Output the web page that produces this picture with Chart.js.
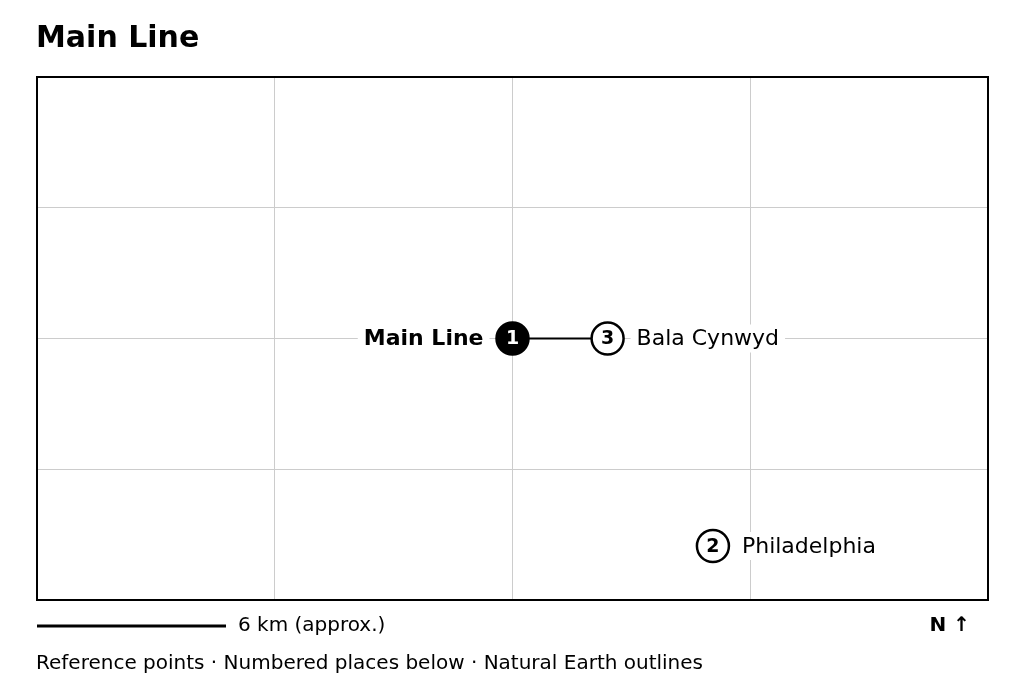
<!DOCTYPE html>
<html><head><meta charset="utf-8">
<script src="https://cdn.jsdelivr.net/npm/chart.js@4"></script>
<style>html,body{margin:0;padding:0;background:#fff}#w{width:1024px;height:692px}</style>
</head><body><div id="w"><canvas id="c"></canvas></div>
<script>
const places = ["Main Line", "Philadelphia", "Bala Cynwyd"];
const numbers = [1, 2, 3];
const xs = [2.0, 2.843, 2.40];
const ys = [2.0, 0.413, 2.0];
const F = "'DejaVu Sans', sans-serif";

const overlay = {
  id: 'overlay',
  afterDatasetsDraw(chart) {
    const {ctx, scales: {x, y}, chartArea: a} = chart;
    ctx.save();
    ctx.strokeStyle = '#000'; ctx.lineWidth = 2;
    ctx.beginPath();
    ctx.moveTo(x.getPixelForValue(xs[0]), y.getPixelForValue(ys[0]));
    ctx.lineTo(x.getPixelForValue(xs[2]), y.getPixelForValue(ys[2]));
    ctx.stroke();
    for (let i = 0; i < places.length; i++) {
      const px = x.getPixelForValue(xs[i]), py = y.getPixelForValue(ys[i]);
      const main = i === 0;
      ctx.font = (main ? 'bold ' : '') + '22px ' + F;
      const tw = ctx.measureText(places[i]).width;
      const lx = main ? px - 29 - tw : px + 29;
      ctx.fillStyle = '#fff';
      ctx.fillRect(lx - 6, py - 14, tw + 12, 28);
      ctx.fillStyle = '#000'; ctx.textBaseline = 'middle'; ctx.textAlign = 'left';
      ctx.fillText(places[i], lx, py + 1);
      ctx.beginPath(); ctx.arc(px, py, 16, 0, Math.PI * 2);
      ctx.fillStyle = main ? '#000' : '#fff'; ctx.fill();
      ctx.lineWidth = 2.5; ctx.strokeStyle = '#000'; ctx.stroke();
      ctx.font = 'bold 19px ' + F; ctx.textAlign = 'center';
      ctx.fillStyle = main ? '#fff' : '#000';
      ctx.fillText(String(numbers[i]), px, py + 1);
    }
    ctx.lineWidth = 2; ctx.strokeStyle = '#000';
    ctx.strokeRect(a.left, a.top, a.right - a.left, a.bottom - a.top);
    ctx.textAlign = 'left'; ctx.textBaseline = 'alphabetic'; ctx.fillStyle = '#000';
    ctx.font = 'bold 30px ' + F; ctx.fillText('Main Line', 36, 47);
    ctx.beginPath(); ctx.moveTo(37, 626); ctx.lineTo(226, 626); ctx.lineWidth = 3; ctx.stroke();
    ctx.font = '20px ' + F; ctx.textBaseline = 'middle';
    ctx.fillText('6 km (approx.)', 238, 626);
    ctx.font = 'bold 20px ' + F; ctx.textAlign = 'right';
    ctx.fillText('N ↑', 970, 626);
    ctx.font = '20px ' + F; ctx.textAlign = 'left';
    ctx.fillText('Reference points · Numbered places below · Natural Earth outlines', 36, 664);
    ctx.restore();
  }
};

new Chart(document.getElementById('c'), {
  type: 'scatter',
  data: { datasets: [{ data: xs.map((v, i) => ({x: v, y: ys[i]})), pointRadius: 0 }] },
  options: {
    responsive: true, maintainAspectRatio: false, animation: false,
    layout: { padding: { left: 37, right: 36, top: 77, bottom: 92 } },
    plugins: { legend: { display: false }, tooltip: { enabled: false } },
    scales: {
      x: { min: 0, max: 4, ticks: { display: false, stepSize: 1 }, border: { display: false },
           grid: { color: '#cccccc', lineWidth: 1, drawTicks: false } },
      y: { min: 0, max: 4, ticks: { display: false, stepSize: 1 }, border: { display: false },
           grid: { color: '#cccccc', lineWidth: 1, drawTicks: false } }
    }
  },
  plugins: [overlay]
});
</script></body></html>
